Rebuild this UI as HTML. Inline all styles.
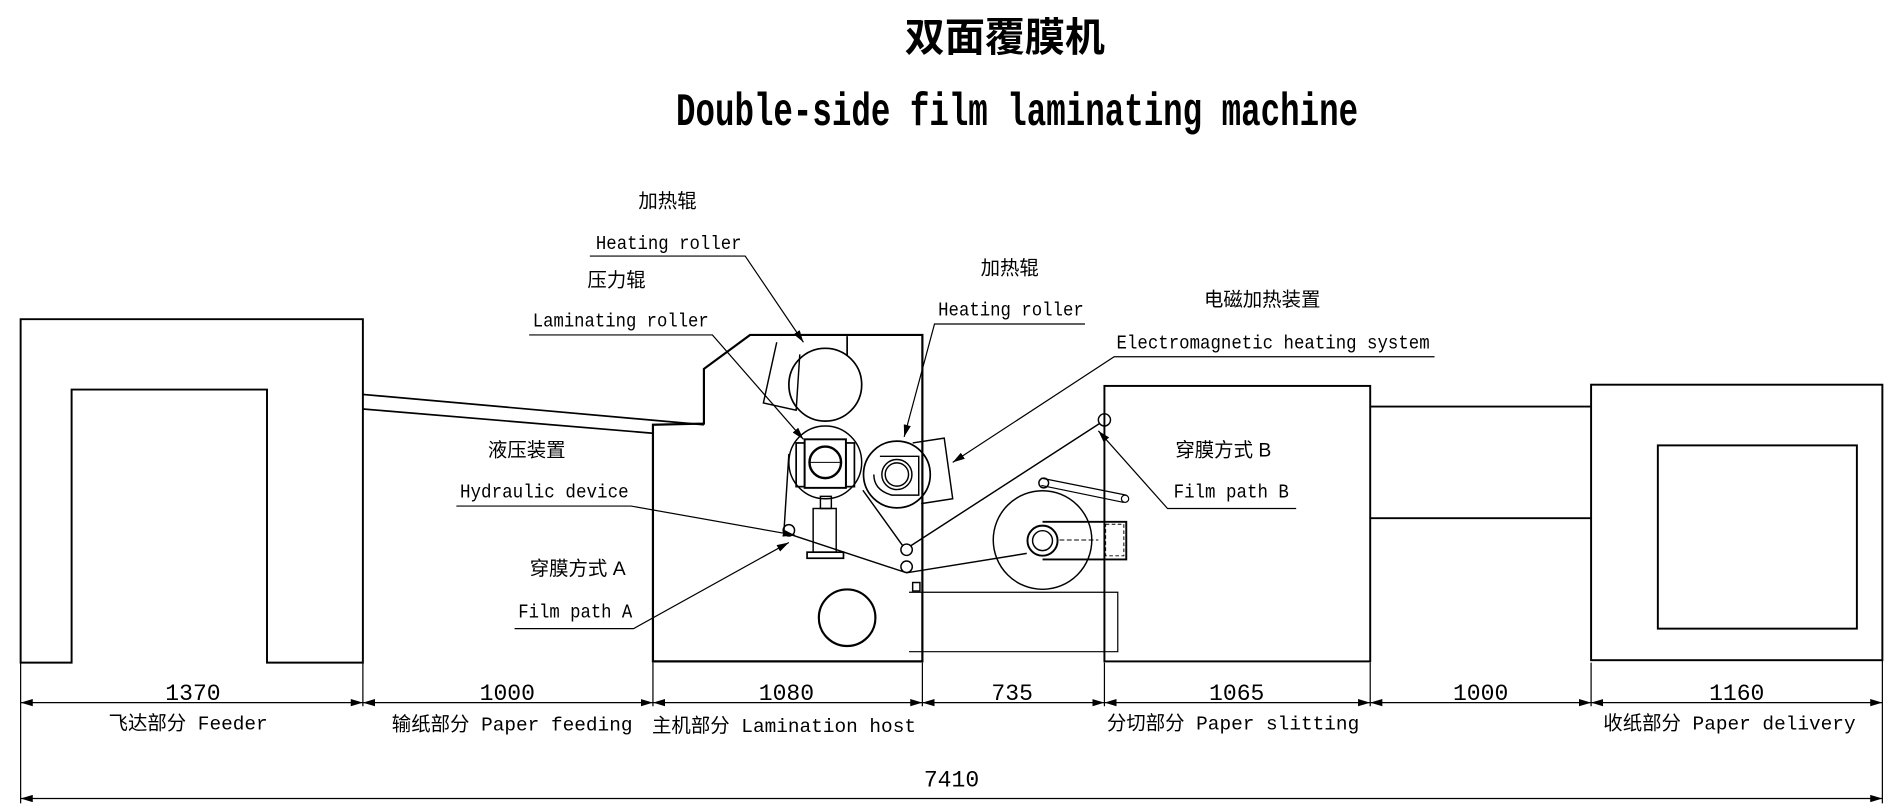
<!DOCTYPE html>
<html><head><meta charset="utf-8"><style>
html,body{margin:0;padding:0;background:#fff;}
svg{display:block;}
text{font-family:"Liberation Mono","Noto Sans CJK SC",monospace;fill:#000;}
.t{font-size:16px;}
.cn{font-family:"Liberation Sans","Noto Sans CJK SC",sans-serif;font-size:16px;}
</style></head><body>
<svg width="1903" height="808" viewBox="0 0 1568 665.8" preserveAspectRatio="none" xmlns="http://www.w3.org/2000/svg">
<defs><marker id="a" markerWidth="10" markerHeight="6" refX="10" refY="3" orient="auto-start-reverse" markerUnits="userSpaceOnUse"><path d="M0,0 L10,3 L0,6 Z" fill="#000"/></marker></defs>
<g fill="none" stroke="#000">
<path d="M17,546 L17,263 L299,263 L299,546 L220,546 L220,321 L59,321 L59,546 Z" stroke-width="1.6"/>
<line x1="299" y1="325" x2="580" y2="350" stroke-width="1.4"/>
<line x1="299" y1="337" x2="538" y2="357" stroke-width="1.4"/>
<path d="M538,350 L580,349 L580,304 L618,276 L760,276 L760,545 L538,545 Z" stroke-width="1.8"/>
<circle cx="680" cy="317" r="30" stroke-width="1.4"/>
<path d="M640,282 L629,332 L656,338 L659,292" stroke-width="1.2"/>
<line x1="698" y1="277" x2="698" y2="293" stroke-width="1.4"/>
<circle cx="680" cy="381" r="30" stroke-width="1.2"/>
<rect x="663" y="362" width="34" height="40" stroke-width="1.6"/>
<rect x="656" y="365" width="7" height="36" stroke-width="1.4"/>
<rect x="697" y="365" width="7" height="36" stroke-width="1.4"/>
<circle cx="680" cy="381" r="13" stroke-width="2"/>
<line x1="667" y1="381" x2="693" y2="381" stroke-width="0.8"/>
<rect x="676" y="409" width="9" height="10" stroke-width="1.2"/>
<rect x="670" y="419" width="19" height="36" stroke-width="1.2"/>
<rect x="665" y="455" width="30" height="5" stroke-width="1.4"/>
<circle cx="739" cy="391" r="27.5" stroke-width="1.4"/>
<circle cx="739" cy="391" r="12.4" stroke-width="1.2"/>
<circle cx="739" cy="391" r="9.6" stroke-width="1.2"/>
<path d="M725,376 L757,376 L757,408 L735,408 Q720,404 720,391" stroke-width="1.2"/>
<path d="M752,365 L778,361 L785,411 L759,415" stroke-width="1.2"/>
<circle cx="747" cy="453" r="4.7" stroke-width="1.2"/>
<circle cx="747" cy="467" r="4.7" stroke-width="1.2"/>
<circle cx="650" cy="437" r="4.7" stroke-width="1.2"/>
<circle cx="910" cy="346" r="5" stroke-width="1.2"/>
<path d="M646,437 L650,374 M653,441 L747,472 L846,456 M711,404 L744,450 M750,450 L906,349" stroke-width="1.2"/>
<circle cx="698" cy="509" r="23.3" stroke-width="1.8"/>
<rect x="752" y="480" width="6" height="7" stroke-width="1.2"/>
<path d="M749,488 L921,488 L921,537 L749,537" stroke-width="1"/>
<circle cx="859" cy="445" r="40.6" stroke-width="1.2"/>
<path d="M859,430 L928,430 L928,461 L859,461" stroke-width="1.6"/>
<rect x="911" y="432" width="15" height="26" stroke-width="0.8" stroke-dasharray="3,2"/>
<circle cx="859" cy="445.5" r="12.4" stroke-width="1.6"/>
<circle cx="859" cy="445.5" r="8.2" stroke-width="1.2"/>
<line x1="873" y1="445" x2="905" y2="445" stroke-width="0.8" stroke-dasharray="4,2"/>
<path d="M858,394 L928,408 M858,400 L926,414" stroke-width="1"/>
<circle cx="860" cy="398" r="4" stroke-width="1.2"/>
<circle cx="927" cy="411" r="3" stroke-width="1"/>
<rect x="910" y="318" width="219" height="227" stroke-width="1.6"/>
<path d="M1129,335 L1311,335 M1129,427 L1311,427" stroke-width="1.6"/>
<rect x="1311" y="317" width="240" height="227" stroke-width="1.6"/>
<rect x="1366" y="367" width="164" height="151" stroke-width="1.6"/>
<g stroke-width="1">
<path d="M17,546 L17,662 M299,546 L299,582 M538,546 L538,582 M760,546 L760,582 M910,546 L910,582 M1129,546 L1129,582 M1311,546 L1311,582 M1551,544 L1551,662"/>
<line x1="17" y1="579" x2="299" y2="579" marker-start="url(#a)" marker-end="url(#a)"/>
<line x1="299" y1="579" x2="538" y2="579" marker-start="url(#a)" marker-end="url(#a)"/>
<line x1="538" y1="579" x2="760" y2="579" marker-start="url(#a)" marker-end="url(#a)"/>
<line x1="760" y1="579" x2="910" y2="579" marker-start="url(#a)" marker-end="url(#a)"/>
<line x1="910" y1="579" x2="1129" y2="579" marker-start="url(#a)" marker-end="url(#a)"/>
<line x1="1129" y1="579" x2="1311" y2="579" marker-start="url(#a)" marker-end="url(#a)"/>
<line x1="1311" y1="579" x2="1551" y2="579" marker-start="url(#a)" marker-end="url(#a)"/>
<line x1="17" y1="658" x2="1551" y2="658" marker-start="url(#a)" marker-end="url(#a)"/>
</g>
<g stroke-width="1">
<path d="M486,211 L614,211 L662,282" marker-end="url(#a)"/>
<path d="M436,276 L587,276 L662,362" marker-end="url(#a)"/>
<path d="M894,267 L770,267 L745,360" marker-end="url(#a)"/>
<path d="M1182,294 L918,294 L785,381" marker-end="url(#a)"/>
<path d="M376,417 L520,417 L655,441" marker-end="url(#a)"/>
<path d="M424,518 L522,518 L650,447" marker-end="url(#a)"/>
<path d="M1068,419 L962,419 L905,355" marker-end="url(#a)"/>
</g>
</g>
<text x="828" y="42" text-anchor="middle" style="font-family:'Noto Sans CJK SC',sans-serif;font-size:33px;font-weight:bold">双面覆膜机</text>
<text x="557" y="103" textLength="562" lengthAdjust="spacingAndGlyphs" style="font-size:38px;font-weight:bold">Double-side film laminating machine</text>
<text class="cn" x="550" y="171" text-anchor="middle">加热辊</text>
<text class="t" x="491" y="205" textLength="120" lengthAdjust="spacingAndGlyphs">Heating roller</text>
<text class="cn" x="508" y="236" text-anchor="middle">压力辊</text>
<text class="t" x="439" y="269" textLength="145" lengthAdjust="spacingAndGlyphs">Laminating roller</text>
<text class="cn" x="832" y="226" text-anchor="middle">加热辊</text>
<text class="t" x="773" y="260" textLength="120" lengthAdjust="spacingAndGlyphs">Heating roller</text>
<text class="cn" x="1040" y="252" text-anchor="middle">电磁加热装置</text>
<text class="t" x="920" y="287" textLength="258" lengthAdjust="spacingAndGlyphs">Electromagnetic heating system</text>
<text class="cn" x="434" y="376" text-anchor="middle">液压装置</text>
<text class="t" x="379" y="410" textLength="139" lengthAdjust="spacingAndGlyphs">Hydraulic device</text>
<text class="cn" x="476" y="474" text-anchor="middle">穿膜方式 A</text>
<text class="t" x="427" y="509" textLength="94" lengthAdjust="spacingAndGlyphs">Film path A</text>
<text class="cn" x="1008" y="376" text-anchor="middle">穿膜方式 B</text>
<text class="t" x="967" y="410" textLength="95" lengthAdjust="spacingAndGlyphs">Film path B</text>
<g class="t" text-anchor="middle" style="font-size:19px">
<text x="159" y="577">1370</text><text x="418" y="577">1000</text><text x="648" y="577">1080</text><text x="834" y="577">735</text><text x="1019" y="577">1065</text><text x="1220" y="577">1000</text><text x="1431" y="577">1160</text><text x="784" y="648">7410</text>
</g>
<g class="cn" text-anchor="middle">
<text x="155" y="601">飞达部分 Feeder</text>
<text x="422" y="602">输纸部分 Paper feeding</text>
<text x="646" y="603">主机部分 Lamination host</text>
<text x="1016" y="601">分切部分 Paper slitting</text>
<text x="1425" y="601">收纸部分 Paper delivery</text>
</g>
</svg>
</body></html>
